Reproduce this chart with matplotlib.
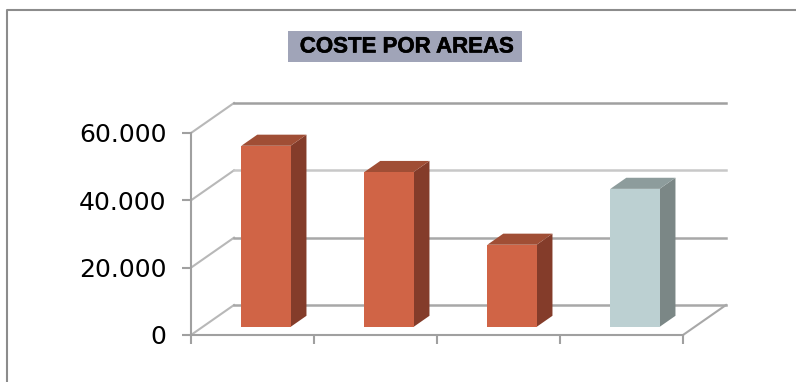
import matplotlib
matplotlib.use('Agg')
import matplotlib.pyplot as plt
import matplotlib.patheffects as pe
from matplotlib.patches import Polygon, Rectangle

W, H = 796, 382

values = [53800, 46000, 24400, 41000]
y_ticks = [0, 20000, 40000, 60000]
y_labels = ['0', '20.000', '40.000', '60.000']
title = 'COSTE POR AREAS'

front_cols = ['#d06446', '#d06446', '#d06446', '#bcd0d2']
side_cols = ['#843c2a', '#843c2a', '#843c2a', '#7b8786']
top_cols = ['#a04e35', '#a04e35', '#a04e35', '#8d9c9c']
grid_cols = ['#a8a8a8', '#a8a8a8', '#c8c8c8', '#a0a0a0']

# oblique depth of the 3d box, in data units
DX = 43 / 123
DY = 30 / 202 * 60000
bar_w = 0.40
d0, d1 = 0.27, 0.64


def proj(x, v, d):
    return x + d * DX, v + d * DY


fig = plt.figure(figsize=(W / 100, H / 100), dpi=100)
ax = fig.add_axes([191 / W, (H - 335) / H, 492 / W, 202 / H])
ax.set_xlim(0, 4)
ax.set_ylim(0, 60000)
ax.patch.set_alpha(0)

for s in ['top', 'right']:
    ax.spines[s].set_visible(False)
for s in ['left', 'bottom']:
    ax.spines[s].set_color('#a0a0a0')
    ax.spines[s].set_linewidth(1.5)

ax.set_xticks([0, 1, 2, 3, 4])
ax.set_xticklabels([])
ax.set_yticks(y_ticks)
ax.set_yticklabels(y_labels, fontsize=18, color='black', family='DejaVu Sans')
ax.tick_params(axis='y', length=6.5, width=1.5, color='#a0a0a0', pad=11)
ax.tick_params(axis='x', length=6.5, width=1.5, color='#a0a0a0')

# back wall and left wall lines
for v, c in zip(y_ticks, grid_cols):
    bx, by = proj(0, v, 1)
    ex, ey = proj(4, v, 1)
    ax.plot([0, bx], [v, by], color='#b8b8b8', lw=1.5, clip_on=False, zorder=1)
    ax.plot([bx, ex], [by, ey], color=c, lw=1.8, clip_on=False, zorder=1)

# floor right edge
ex, ey = proj(4, 0, 1)
ax.plot([4, ex], [0, ey], color='#a8a8a8', lw=1.5, clip_on=False, zorder=1)

for i, v in enumerate(values):
    x0 = i + 0.5 - bar_w / 2 + 0.015
    x1 = x0 + bar_w
    a = proj(x0, 0, d0)
    b = proj(x1, 0, d0)
    c = proj(x1, v, d0)
    d = proj(x0, v, d0)
    b2 = proj(x1, 0, d1)
    c2 = proj(x1, v, d1)
    d2 = proj(x0, v, d1)
    ax.add_patch(Polygon([b, b2, c2, c], fc=side_cols[i], ec='none', clip_on=False, zorder=3))
    ax.add_patch(Polygon([d, c, c2, d2], fc=top_cols[i], ec='none', clip_on=False, zorder=3))
    ax.add_patch(Polygon([a, b, c, d], fc=front_cols[i], ec='none', clip_on=False, zorder=4))

# outer frame, only top and left show
fig.add_artist(plt.Line2D([6.5 / W, 6.5 / W, 1], [0, (H - 9.5) / H, (H - 9.5) / H],
                          color='#8c8c8c', lw=1.5))

# title box
fig.add_artist(Rectangle((288 / W, (H - 62) / H), 234 / W, 31 / H,
                         transform=fig.transFigure, fc='#a0a4b8', ec='none'))
t = fig.text(407 / W, (H - 47) / H, title, ha='center', va='center', fontsize=16,
             fontweight='bold', family='Liberation Sans', color='black')
t.set_path_effects([pe.withStroke(linewidth=0.4, foreground='black')])

fig.savefig('out.png', dpi=100)
